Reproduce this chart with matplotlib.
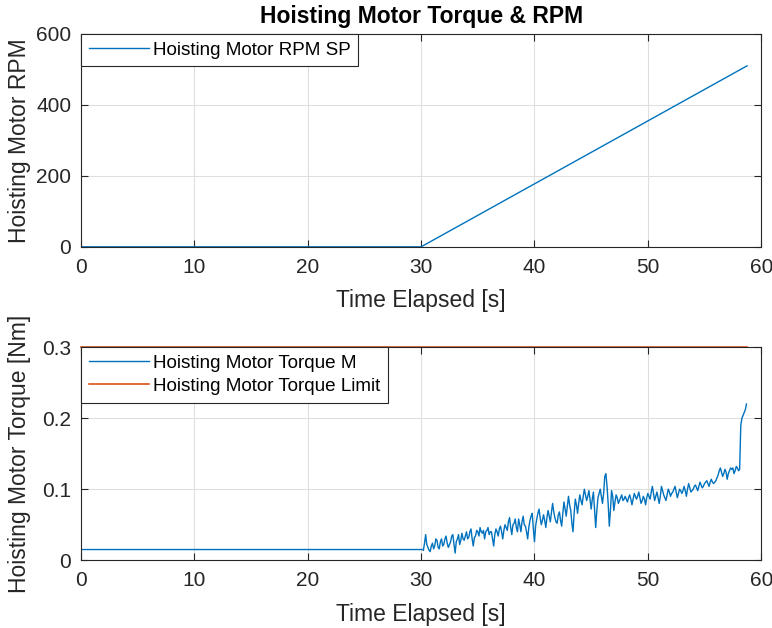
import numpy as np
import matplotlib
matplotlib.use("Agg")
import matplotlib.pyplot as plt

plt.rcParams['font.family'] = ['Liberation Sans', 'DejaVu Sans']

# ---- Data ----
rpm_t = [0.0, 30.0, 58.75]
rpm_v = [0.0, 0.0, 510.0]

flat_t = [0.0, 30.2]
flat_v = [0.015, 0.015]

noisy_start, noisy_step = 30.2, 0.1
noisy_v = [
    0.014, 0.024, 0.036, 0.022, 0.018, 0.014, 0.012, 0.020, 0.024, 0.016,
    0.020, 0.030, 0.028, 0.018, 0.016, 0.026, 0.030, 0.020, 0.022, 0.030,
    0.034, 0.024, 0.018, 0.022, 0.026, 0.034, 0.036, 0.022, 0.010, 0.026,
    0.030, 0.036, 0.022, 0.028, 0.038, 0.030, 0.028, 0.034, 0.040, 0.030,
    0.032, 0.040, 0.044, 0.030, 0.020, 0.032, 0.034, 0.042, 0.040, 0.034,
    0.046, 0.040, 0.038, 0.042, 0.030, 0.040, 0.042, 0.046, 0.036, 0.040,
    0.040, 0.030, 0.020, 0.036, 0.044, 0.040, 0.034, 0.044, 0.048, 0.040,
    0.030, 0.042, 0.050, 0.046, 0.042, 0.054, 0.060, 0.046, 0.036, 0.050,
    0.052, 0.058, 0.046, 0.040, 0.058, 0.050, 0.040, 0.054, 0.062, 0.050,
    0.048, 0.040, 0.030, 0.046, 0.056, 0.062, 0.066, 0.044, 0.026, 0.048,
    0.058, 0.066, 0.072, 0.060, 0.050, 0.056, 0.064, 0.056, 0.046, 0.060,
    0.070, 0.062, 0.054, 0.068, 0.080, 0.068, 0.060, 0.054, 0.052, 0.064,
    0.068, 0.056, 0.048, 0.066, 0.082, 0.072, 0.062, 0.076, 0.090, 0.078,
    0.070, 0.052, 0.040, 0.066, 0.086, 0.078, 0.066, 0.080, 0.092, 0.084,
    0.078, 0.090, 0.100, 0.092, 0.084, 0.090, 0.098, 0.086, 0.072, 0.086,
    0.096, 0.070, 0.046, 0.070, 0.088, 0.094, 0.100, 0.090, 0.080, 0.094,
    0.118, 0.122, 0.104, 0.080, 0.048, 0.070, 0.098, 0.090, 0.070, 0.082,
    0.092, 0.088, 0.080, 0.084, 0.088, 0.092, 0.084, 0.086, 0.090, 0.086,
    0.082, 0.088, 0.092, 0.086, 0.078, 0.086, 0.094, 0.090, 0.086, 0.090,
    0.096, 0.088, 0.080, 0.084, 0.090, 0.086, 0.078, 0.088, 0.094, 0.090,
    0.086, 0.096, 0.104, 0.094, 0.084, 0.090, 0.096, 0.088, 0.080, 0.090,
    0.104, 0.098, 0.092, 0.088, 0.084, 0.092, 0.100, 0.096, 0.090, 0.094,
    0.096, 0.100, 0.104, 0.096, 0.088, 0.094, 0.100, 0.098, 0.094, 0.098,
    0.104, 0.098, 0.090, 0.100, 0.108, 0.102, 0.096, 0.098, 0.100, 0.104,
    0.106, 0.102, 0.098, 0.104, 0.110, 0.106, 0.102, 0.104, 0.108, 0.110,
    0.112, 0.108, 0.104, 0.110, 0.114, 0.110, 0.108, 0.110, 0.112, 0.116,
    0.120, 0.126, 0.130, 0.124, 0.118, 0.122, 0.128, 0.124, 0.114, 0.122,
    0.126, 0.130, 0.128, 0.130, 0.122, 0.126, 0.132, 0.130, 0.126, 0.128,
]
tail_t = [58.2, 58.3, 58.4, 58.5, 58.6, 58.7]
tail_v = [0.190, 0.200, 0.204, 0.208, 0.212, 0.220]

limit_t = [0.0, 58.75]
limit_v = [0.3, 0.3]

x_ticks = [0, 10, 20, 30, 40, 50, 60]
rpm_ticks = [0, 200, 400, 600]
torque_ticks = [0, 0.1, 0.2, 0.3]

noisy_t = list(noisy_start + noisy_step * np.arange(len(noisy_v)))
torque_t = flat_t + noisy_t + tail_t
torque_v = flat_v + noisy_v + tail_v

# ---- Figure ----
blue = '#0072BD'
orange = '#D95319'
axcol = '#262626'

fig = plt.figure(figsize=(7.72, 6.28), dpi=100)
ax1 = fig.add_axes([0.105, 0.607, 0.881, 0.339])
ax2 = fig.add_axes([0.105, 0.108, 0.881, 0.339])

def style(ax):
    ax.grid(True, color='#dfdfdf', linewidth=0.8)
    ax.set_axisbelow(True)
    for s in ax.spines.values():
        s.set_color(axcol)
        s.set_linewidth(0.8)
    ax.tick_params(direction='in', top=True, right=True, length=5,
                   labelsize=15, colors=axcol, width=0.8)
    ax.tick_params(axis='x', pad=8)
    ax.tick_params(axis='y', pad=7)
    ax.set_xlim(0, 60)
    ax.set_xticks(x_ticks)

leg_kw = dict(loc='upper left', fontsize=13.6, fancybox=False, framealpha=1,
              edgecolor=axcol, handlelength=3.2, borderaxespad=0.0,
              borderpad=0.4, handletextpad=0.2, labelspacing=0.3)

style(ax1)
ax1.plot(rpm_t, rpm_v, color=blue, linewidth=1.0, label='Hoisting Motor RPM SP')
ax1.set_ylim(0, 600)
ax1.set_yticks(rpm_ticks)
ax1.set_xlabel('Time Elapsed [s]', fontsize=16.5, color=axcol, labelpad=9)
ax1.set_ylabel('Hoisting Motor RPM', fontsize=16.5, color=axcol)
ax1.yaxis.set_label_coords(-0.073, 0.5)
ax1.set_title('Hoisting Motor Torque & RPM', fontsize=16.5, fontweight='bold', color='black', pad=8)
leg1 = ax1.legend(**leg_kw)
leg1.get_frame().set_linewidth(0.8)

style(ax2)
ax2.plot(torque_t, torque_v, color=blue, linewidth=1.0, label='Hoisting Motor Torque M')
ax2.plot(limit_t, limit_v, color=orange, linewidth=1.2, label='Hoisting Motor Torque Limit', clip_on=False)
ax2.set_ylim(0, 0.3)
ax2.set_yticks(torque_ticks)
ax2.set_yticklabels(['0', '0.1', '0.2', '0.3'])
ax2.set_xlabel('Time Elapsed [s]', fontsize=16.5, color=axcol, labelpad=9)
ax2.set_ylabel('Hoisting Motor Torque [Nm]', fontsize=16.5, color=axcol)
ax2.yaxis.set_label_coords(-0.073, 0.5)
leg2 = ax2.legend(**leg_kw)
leg2.get_frame().set_linewidth(0.8)

fig.savefig('out.png', dpi=100)
